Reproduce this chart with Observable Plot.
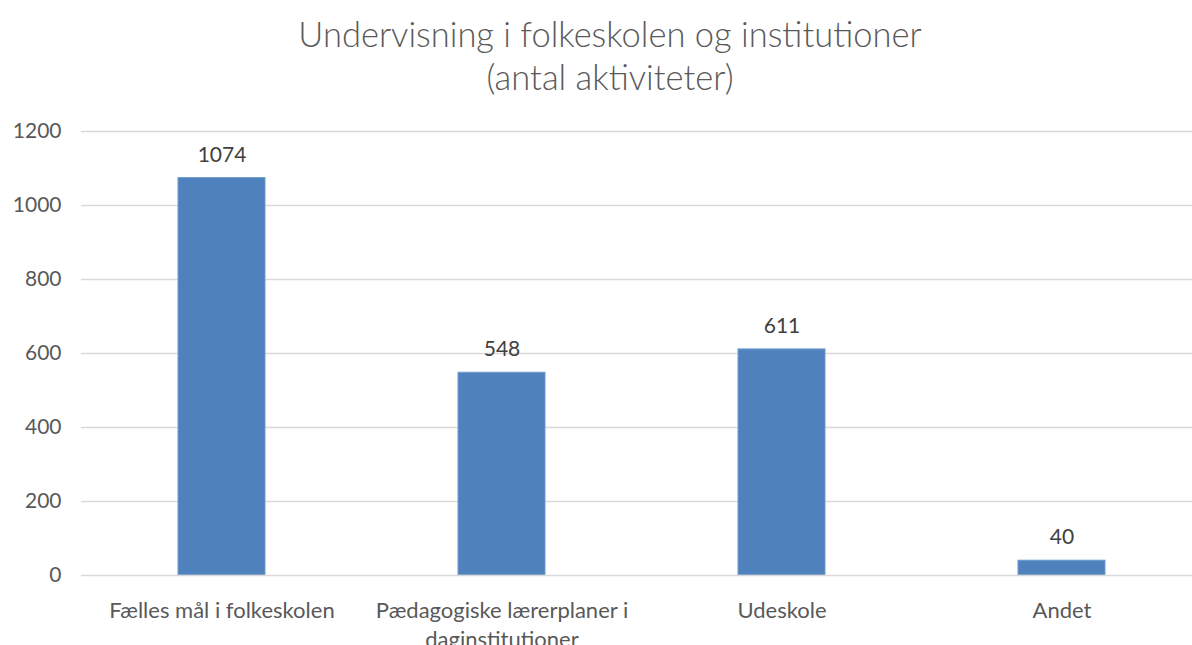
<!DOCTYPE html>
<html>
<head>
<meta charset="utf-8">
<script src="https://cdn.jsdelivr.net/npm/d3@7"></script>
<script src="https://cdn.jsdelivr.net/npm/@observablehq/plot@0.6"></script>
<style>
  html, body { margin: 0; padding: 0; background: #fff; overflow: hidden; }
  #title { font-family: Lato, "Open Sans", sans-serif; font-weight: 300; color: #595959; font-size: 34.5px; text-align: center;
           line-height: 43px; height: 110px; box-sizing: border-box; padding-top: 12px; padding-left: 28px; }
</style>
</head>
<body>
<div id="title">Undervisning i folkeskolen og institutioner<br>(antal aktiviteter)</div>
<div id="chart"></div>
<script>
const categories = ["Fælles mål i folkeskolen", "Pædagogiske lærerplaner i daginstitutioner", "Udeskole", "Andet"];
const tickLabels = ["Fælles mål i folkeskolen", "Pædagogiske lærerplaner i\ndaginstitutioner", "Udeskole", "Andet"];
const values = [1074, 548, 611, 40];
const yTicks = [0, 200, 400, 600, 800, 1000, 1200];

const data = categories.map((c, i) => ({category: c, value: values[i]}));
const labelOf = new Map(categories.map((c, i) => [c, tickLabels[i]]));

const chart = Plot.plot({
  width: 1192,
  height: 535,
  marginTop: 21,
  marginBottom: 70,
  marginLeft: 81,
  marginRight: 0,
  style: {fontFamily: "Lato, 'Open Sans', sans-serif", fontSize: "21px", color: "#595959", background: "#fff"},
  x: {domain: categories, range: [81, 1202], paddingInner: 0.69, paddingOuter: 0.345, label: null},
  y: {domain: [0, 1200], label: null},
  marks: [
    Plot.ruleY(yTicks.filter(d => d > 0), {stroke: "#d9d9d9", strokeWidth: 1.3}),
    Plot.barY(data, {x: "category", y: "value", fill: "#4f81bd", stroke: "#6f9bd1", strokeWidth: 1}),
    Plot.ruleY([0], {stroke: "#d9d9d9", strokeWidth: 1.5}),
    Plot.text(data, {x: "category", y: "value", text: d => String(d.value), dy: -23, fill: "#404040", fontSize: 21}),
    Plot.axisY({ticks: yTicks, tickSize: 0, tickPadding: 20, fontSize: 21, tickFormat: d => String(d), label: null}),
    Plot.axisX({tickSize: 0, tickPadding: 21, fontSize: 22, tickFormat: d => labelOf.get(d), lineHeight: 1.35, label: null})
  ]
});
document.getElementById("chart").appendChild(chart);
</script>
</body>
</html>
